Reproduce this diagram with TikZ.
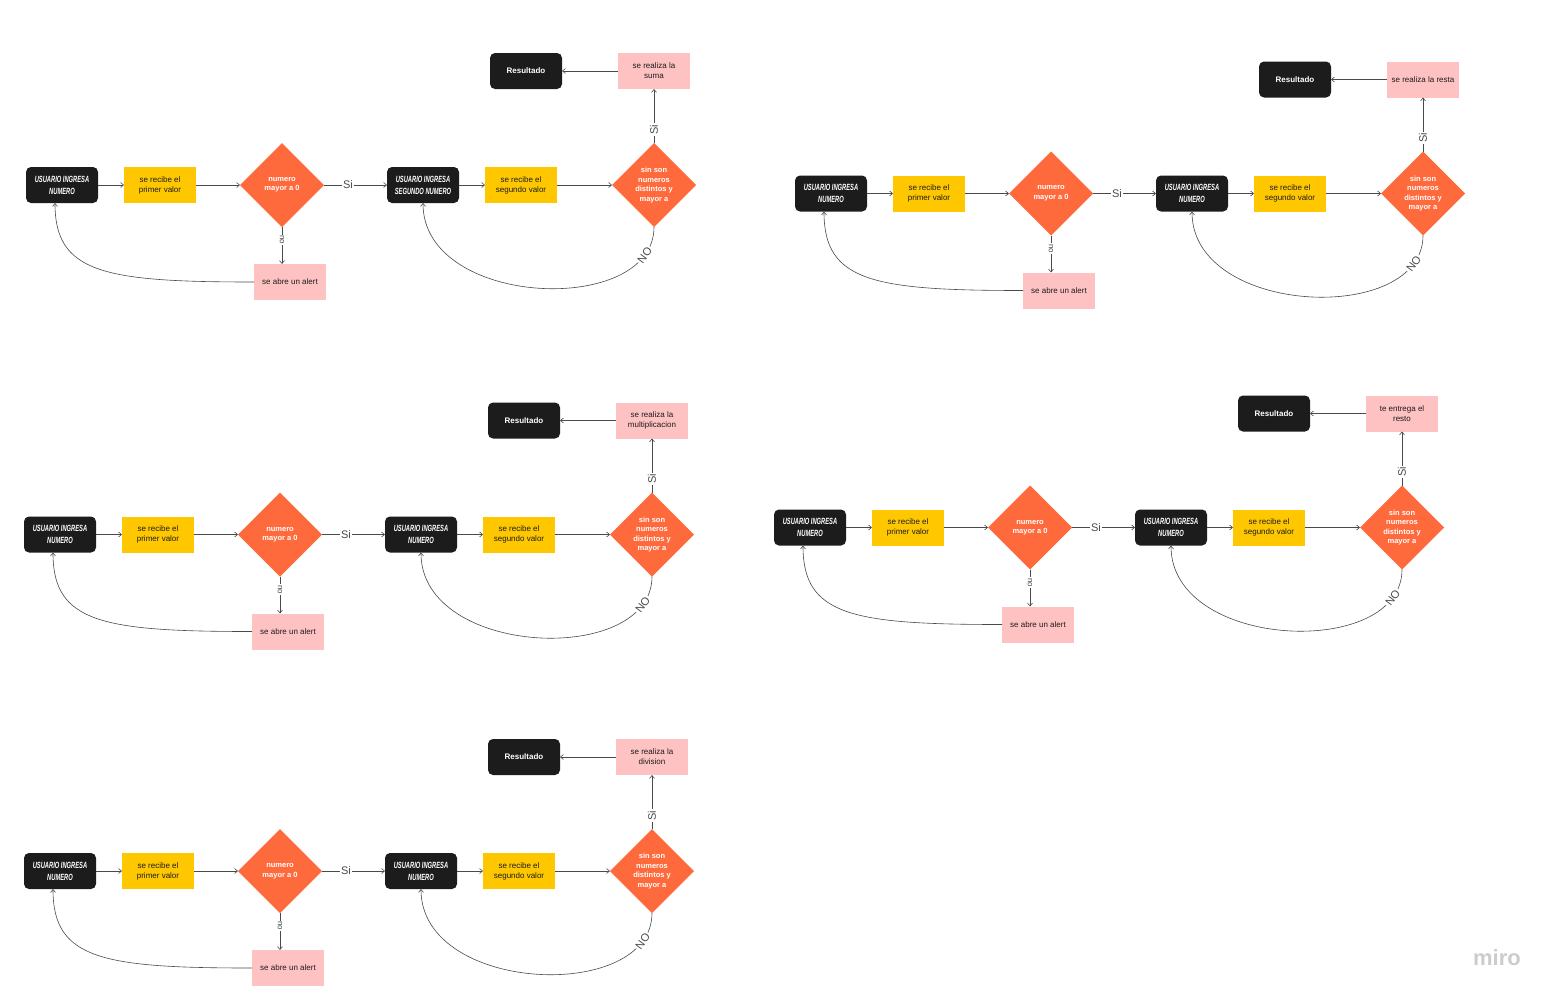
\documentclass[tikz,border=0pt]{standalone}
\usepackage{fontspec}
\setmainfont{Liberation Sans}
\newfontfamily\rotulo[FakeStretch=0.64]{Liberation Sans}
\usetikzlibrary{arrows.meta,positioning,shapes.geometric}

\definecolor{negro}{HTML}{1C1C1C}
\definecolor{amarillo}{HTML}{FFC700}
\definecolor{naranja}{HTML}{FF6A3D}
\definecolor{rosa}{HTML}{FFC2C2}
\definecolor{linea}{HTML}{4A4A4A}

% un diagrama: prefijo, posicion, segundo usuario, operacion
\newcommand{\flujo}[4]{%
  \node[usr](#1u1) at (#2){USUARIO INGRESA\\NUMERO};
  \node[val,right=26pt of #1u1](#1v1){se recibe el\\primer valor};
  \node[dec,right=44pt of #1v1](#1d1){numero\\mayor a 0};
  \node[usr,right=63pt of #1d1](#1u2){#3};
  \node[val,right=26pt of #1u2](#1v2){se recibe el\\segundo valor};
  \node[dec,right=55pt of #1v2](#1d2){sin son\\numeros\\distintos y\\mayor a};
  \node[msg,above=54pt of #1d2](#1op){#4};
  \node[res,left=56pt of #1op](#1res){Resultado};
  \node[msg,below=37pt of #1d1,xshift=8pt](#1al){se abre un alert};
  \draw[arr](#1u1)--(#1v1);\draw[arr](#1v1)--(#1d1);
  \draw[arr](#1d1)--(#1u2) node[si,pos=.38]{Si};
  \draw[arr](#1u2)--(#1v2);\draw[arr](#1v2)--(#1d2);
  \draw[arr](#1d2)--(#1op) node[si,pos=.25,rotate=90]{Si};
  \draw[arr](#1op)--(#1res);
  \draw[arr](#1d1.south)--(#1d1.south |- #1al.north) node[no,pos=.35,rotate=-90]{no};
  \draw[arr](#1al.west) .. controls +(-150,0) and +(0,70) .. ([xshift=-7pt]#1u1.south);
  \draw[arr](#1d2.south) .. controls +(0,90) and +(0,105) .. (#1u2.south) node[si,pos=.12,sloped]{NO};
}

\begin{document}
\begin{tikzpicture}[x=1pt,y=-1pt,
  box/.style={minimum width=72pt,minimum height=36pt,inner sep=1pt,outer sep=0pt,align=center},
  usr/.style={box,fill=negro,rounded corners=5pt,text=white,font=\rotulo\fontsize{9}{12}\selectfont\bfseries\itshape},
  res/.style={box,fill=negro,rounded corners=5pt,text=white,font=\fontsize{8}{10}\selectfont\bfseries},
  val/.style={box,fill=amarillo,text=negro,font=\fontsize{8}{10}\selectfont},
  msg/.style={box,fill=rosa,text=negro,font=\fontsize{8}{10}\selectfont},
  dec/.style={diamond,aspect=1,minimum width=84pt,minimum height=84pt,inner sep=0pt,outer sep=0pt,fill=naranja,text=white,align=center,font=\fontsize{7.5}{9.5}\selectfont\bfseries},
  arr/.style={-{Straight Barb[length=3pt,width=5pt]},draw=linea,line width=.6pt},
  si/.style={fill=white,inner sep=1.5pt,text=linea,font=\fontsize{11}{12}\selectfont},
  no/.style={fill=white,inner sep=1pt,text=linea,font=\fontsize{8}{9}\selectfont},
  wm/.style={text=gray!40,font=\fontsize{22}{24}\selectfont\bfseries}]
  \fill[white](0,0) rectangle (1558,1002);
  \useasboundingbox (0,0) rectangle (1558,1002);
  \flujo{a}{62,185}{USUARIO INGRESA\\SEGUNDO NUMERO}{se realiza la\\suma}
  \flujo{b}{831,193.5}{USUARIO INGRESA\\NUMERO}{se realiza la resta}
  \flujo{c}{60,534.5}{USUARIO INGRESA\\NUMERO}{se realiza la\\multiplicacion}
  \flujo{d}{810,527.5}{USUARIO INGRESA\\NUMERO}{te entrega el\\resto}
  \flujo{e}{60,871}{USUARIO INGRESA\\NUMERO}{se realiza la\\division}
  \node[wm](wm) at (1497,958){miro};
\end{tikzpicture}
\end{document}
